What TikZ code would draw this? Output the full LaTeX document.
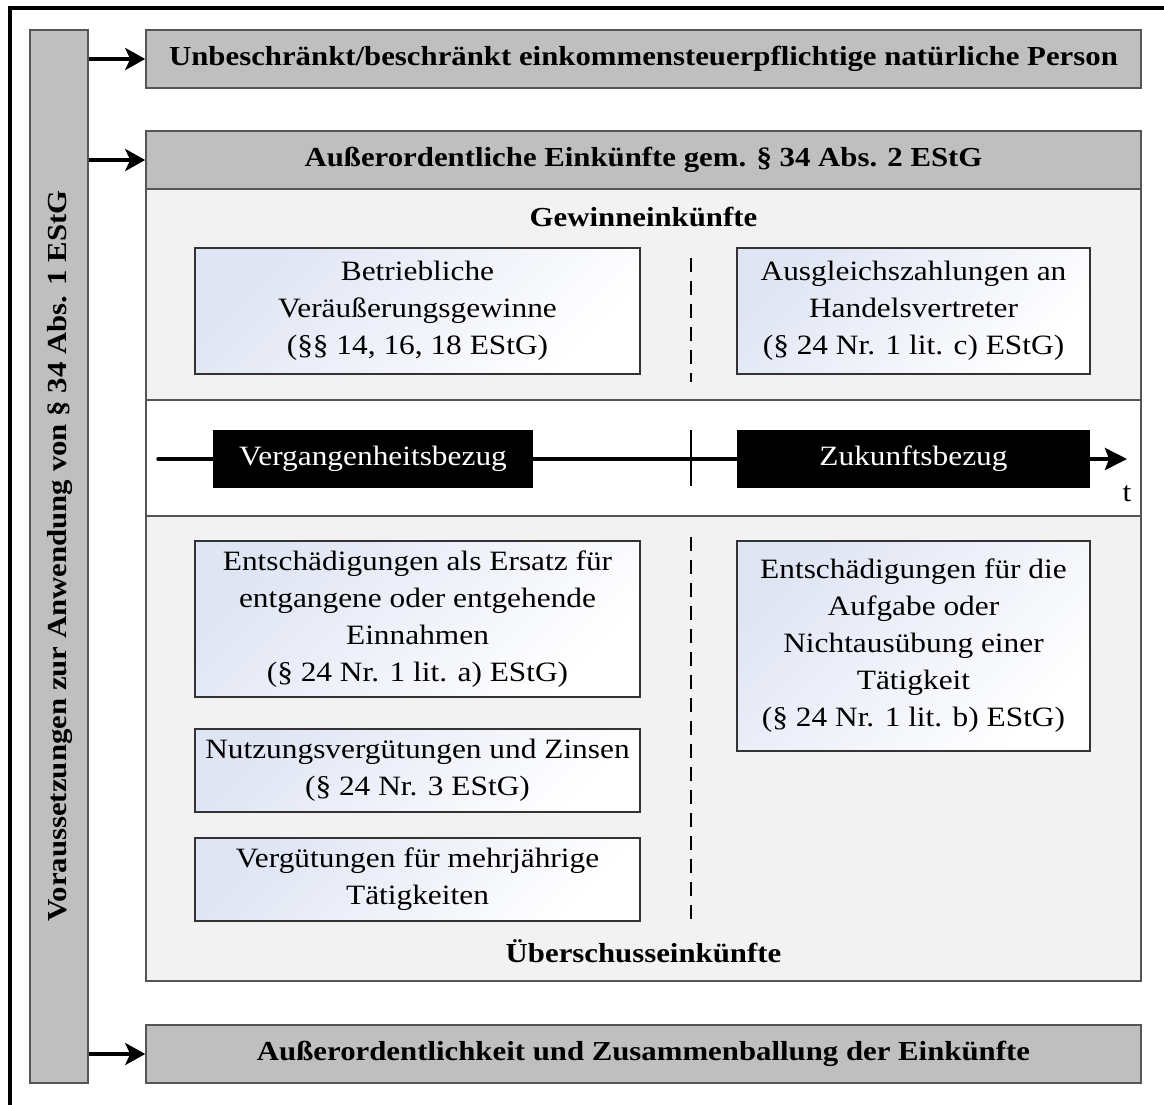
\documentclass[tikz,border=0pt]{standalone}
\usepackage{fontspec}
\setmainfont{Liberation Serif}[FakeStretch=1.12]
\usetikzlibrary{arrows.meta}
\definecolor{barfill}{HTML}{BFBFBF}
\definecolor{edge}{HTML}{555555}
\definecolor{panelfill}{HTML}{F2F2F2}
\definecolor{boxtint}{HTML}{E0E5F4}
\tikzset{
  greybox/.style={draw=edge, line width=1.6pt, fill=barfill, inner sep=0pt},
  headtext/.style={font=\fontsize{27.5}{30}\selectfont\bfseries},
  infobox/.style={draw=edge!60!black, line width=1.3pt, inner sep=0pt, align=center,
    top color=boxtint, bottom color=white, shading angle=45,
    font=\fontsize{28}{37}\selectfont},
  timebox/.style={fill=black, text=white, inner sep=0pt, font=\fontsize{28}{32}\selectfont},
  feed/.style={line width=4pt, -{Stealth[length=20pt,width=22pt,inset=5pt]}},
  divider/.style={line width=2pt, dash pattern=on 14pt off 9pt},
}
\begin{document}
\begin{tikzpicture}[x=1pt,y=-1pt]
\useasboundingbox (0,0) rectangle (1164,1104);
% outer frame (left and top edges)
\draw[line width=4pt] (9.5,1110) -- (9.5,8) -- (1170,8);

% left column
\node[greybox, minimum width=58pt, minimum height=1053pt] (bar) at (59,556.5) {};
\node[headtext, rotate=90] (bartext) at (60,556) {Voraussetzungen zur Anwendung von § 34 Abs. 1 EStG};

% header boxes
\node[greybox, minimum width=995pt, minimum height=58pt, headtext] (top) at (643.5,59)
  {Unbeschränkt/beschränkt einkommensteuerpflichtige natürliche Person};
\node[draw=edge, line width=1.6pt, fill=panelfill, minimum width=995pt, minimum height=792pt] (panel) at (643.5,585) {};
\node[greybox, minimum width=995pt, minimum height=58pt, headtext] (head) at (643.5,160)
  {Außerordentliche Einkünfte gem. § 34 Abs. 2 EStG};
\node[draw=edge, line width=1.6pt, fill=white, minimum width=995pt, minimum height=116pt] (band) at (643.5,458) {};
\node[greybox, minimum width=995pt, minimum height=58pt, headtext] (bottom) at (643.5,1054)
  {Außerordentlichkeit und Zusammenballung der Einkünfte};

% connectors from the left column
\draw[feed] (bar.east |- top.west) -- (top.west);
\draw[feed] (bar.east |- head.west) -- (head.west);
\draw[feed] (bar.east |- bottom.west) -- (bottom.west);

% section titles
\node[headtext] (gewinn) at (643.5,217) {Gewinneinkünfte};
\node[headtext] (ueber) at (643.5,951) {Überschusseinkünfte};

% dividers
\coordinate (dtop1) at (691,258);
\coordinate (dbot1) at (691,382);
\coordinate (dtop2) at (691,537);
\coordinate (dbot2) at (691,922);
\draw[divider] (dtop1) -- (dbot1);
\draw[divider] (dtop2) -- (dbot2);

% time axis
\coordinate (tstart) at (158,459);
\coordinate (tend) at (1127,459);
\coordinate (tickA) at (691,430);
\coordinate (tickB) at (691,486);
\draw[line width=3.5pt, line cap=round, -{Stealth[length=22pt,width=22pt,inset=4pt]}] (tstart) -- (tend);
\draw[line width=2pt] (tickA) -- (tickB);
\node[timebox, minimum width=320pt, minimum height=58pt] (past) at (373,459) {Vergangenheitsbezug};
\node[timebox, minimum width=353pt, minimum height=58pt] (future) at (913.5,459) {Zukunftsbezug};
\node[font=\fontsize{28}{32}\selectfont] (t) at (1127,494) {t};

% profit income
\node[infobox, minimum width=445pt, minimum height=126pt] (b1) at (417.5,311)
  {Betriebliche\\Veräußerungsgewinne\\(§§ 14, 16, 18 EStG)};
\node[infobox, minimum width=353pt, minimum height=126pt] (b2) at (913.5,311)
  {Ausgleichszahlungen an\\Handelsvertreter\\(§ 24 Nr. 1 lit. c) EStG)};

% surplus income
\node[infobox, minimum width=445pt, minimum height=156pt] (b3) at (417.5,619)
  {Entschädigungen als Ersatz für\\entgangene oder entgehende\\Einnahmen\\(§ 24 Nr. 1 lit. a) EStG)};
\node[infobox, minimum width=445pt, minimum height=83pt] (b4) at (417.5,770.5)
  {Nutzungsvergütungen und Zinsen\\(§ 24 Nr. 3 EStG)};
\node[infobox, minimum width=445pt, minimum height=83pt] (b5) at (417.5,879.5)
  {Vergütungen für mehrjährige\\Tätigkeiten};
\node[infobox, minimum width=353pt, minimum height=210pt] (b6) at (913.5,646)
  {Entschädigungen für die\\Aufgabe oder\\Nichtausübung einer\\Tätigkeit\\(§ 24 Nr. 1 lit. b) EStG)};
\end{tikzpicture}
\end{document}
